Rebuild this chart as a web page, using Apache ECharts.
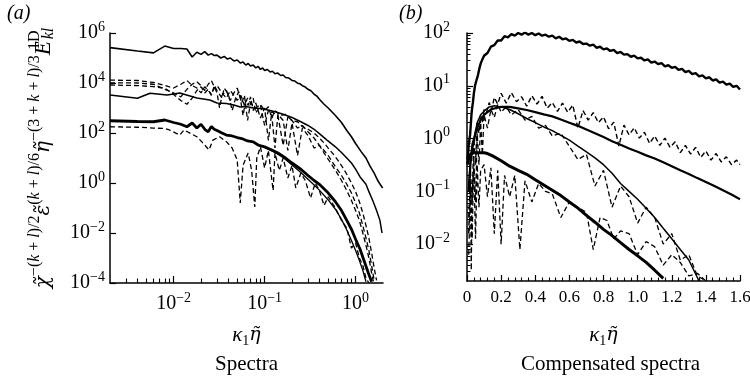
<!DOCTYPE html>
<html><head><meta charset="utf-8">
<script src="https://cdn.jsdelivr.net/npm/echarts@6/dist/echarts.min.js"></script>
<style>html,body{margin:0;padding:0;background:#fff}#c{width:750px;height:380px}</style>
</head><body><div id="c"></div>
<script>
// ---------- Panel (a): spectra, [kappa1*eta, E] ----------
const specA = [[0.002,2.6e5],[0.004,1.9e5],[0.006,1.6e5],[0.008,3.0e5],[0.010,2.4e5],[0.012,2.4e5],[0.014,2.3e5],[0.016,1.1e5],[0.018,1.7e5],[0.020,1.4e5],[0.022,1.8e5],[0.024,1.3e5],[0.026,1.5e5],[0.028,1.26e5],[0.030,1.3e5],[0.033,1.0e5],[0.036,1.15e5],[0.039,9.1e4],[0.042,1.0e5],[0.046,7.6e4],[0.050,8.3e4],[0.054,6.3e4],[0.058,6.9e4],[0.062,5.2e4],[0.066,6.0e4],[0.070,4.8e4],[0.075,5.2e4],[0.080,4.0e4],[0.085,4.6e4],[0.090,3.5e4],[0.095,4.0e4],[0.100,3.16e4],[0.107,3.5e4],[0.115,2.75e4],[0.122,2.95e4],[0.130,2.34e4],[0.140,2.5e4],[0.150,2.0e4],[0.160,2.1e4],[0.170,1.66e4],[0.185,1.58e4],[0.200,1.26e4],[0.215,1.2e4],[0.230,9.8e3],[0.245,9.3e3],[0.260,7.8e3],[0.280,6.9e3],[0.300,5.6e3],[0.325,4.8e3],[0.350,3.55e3],[0.375,3.0e3],[0.400,2.24e3],[0.450,1.41e3],[0.500,1.0e3],[0.600,500],[0.700,263],[0.800,126],[0.900,71],[1.00,38],[1.15,18],[1.30,10],[1.45,4.5],[1.60,2.5],[1.75,1.26],[1.90,0.79],[1.98,0.63]];
const specB1 = [[0.002,1.3e4],[0.004,1.26e4],[0.006,1.05e4],[0.008,7.9e3],[0.010,6.3e3],[0.012,8.9e3],[0.014,1.26e4],[0.016,7.9e3],[0.018,6.3e3],[0.020,4.0e3],[0.022,7.1e3],[0.024,5.0e3],[0.026,3.5e3],[0.028,6.3e3],[0.030,7.9e3],[0.034,4.0e3],[0.038,2.5e3],[0.042,5.0e3],[0.046,3.2e3],[0.050,2.0e3],[0.055,3.2e3],[0.060,1.26e3],[0.065,2.5e3],[0.070,1.58e3],[0.080,1.0e3],[0.090,1.4e3],[0.100,794],[0.110,1.12e3],[0.120,398],[0.130,794],[0.150,501],[0.170,562],[0.200,316],[0.230,282],[0.260,178],[0.300,141],[0.350,100],[0.400,63],[0.450,40],[0.500,25],[0.600,11.2],[0.700,5.0],[0.800,2.24],[0.900,1.0],[1.00,0.45],[1.10,0.178],[1.20,0.063],[1.30,0.02],[1.40,0.0063],[1.50,0.0016],[1.60,4e-4],[1.70,1.26e-4]];
const specB2 = [[0.002,1.02e4],[0.004,1.0e4],[0.006,8.9e3],[0.008,5.6e3],[0.010,4.0e3],[0.012,2.8e3],[0.014,5.6e3],[0.016,8.9e3],[0.018,1.12e4],[0.020,7.9e3],[0.022,5.0e3],[0.024,8.9e3],[0.026,1.26e4],[0.028,7.1e3],[0.030,4.0e3],[0.032,1.0e3],[0.034,3.2e3],[0.038,5.0e3],[0.042,2.0e3],[0.046,4.0e3],[0.050,6.3e3],[0.054,2.5e3],[0.058,500],[0.062,2.0e3],[0.066,1.26e3],[0.070,2.8e3],[0.075,794],[0.080,1.58e3],[0.090,398],[0.100,1.0e3],[0.110,50],[0.120,708],[0.140,501],[0.160,31.6],[0.180,447],[0.200,316],[0.230,158],[0.260,200],[0.300,112],[0.350,63],[0.400,32],[0.450,20],[0.500,12.6],[0.600,4.5],[0.700,2.0],[0.800,0.89],[0.900,0.4],[1.00,0.158],[1.10,0.063],[1.20,0.02],[1.30,0.0063],[1.40,0.002],[1.50,5e-4],[1.60,1.26e-4]];
const specB3 = [[0.002,8.3e3],[0.004,7.9e3],[0.006,7.1e3],[0.008,6.3e3],[0.010,3.5e3],[0.012,2.0e3],[0.014,1.41e3],[0.016,2.5e3],[0.018,5.0e3],[0.020,7.1e3],[0.022,4.0e3],[0.024,5.6e3],[0.026,3.2e3],[0.028,7.9e3],[0.030,5.0e3],[0.034,2.5e3],[0.036,6.3e3],[0.040,3.5e3],[0.044,794],[0.048,2.5e3],[0.052,4.5e3],[0.056,1.58e3],[0.060,3.2e3],[0.065,316],[0.070,1.58e3],[0.075,2.5e3],[0.080,631],[0.090,1.26e3],[0.100,200],[0.110,794],[0.120,501],[0.130,25],[0.140,562],[0.160,316],[0.180,20],[0.200,251],[0.230,12.6],[0.260,158],[0.300,79],[0.350,25],[0.400,32],[0.450,15.8],[0.500,8.9],[0.600,3.2],[0.700,1.26],[0.800,0.5],[0.900,0.2],[1.00,0.079],[1.10,0.032],[1.20,0.01],[1.30,0.0032],[1.40,0.001],[1.50,2.5e-4],[1.58,1e-4]];
const specC = [[0.002,3.3e3],[0.004,2.45e3],[0.0055,3.9e3],[0.0085,3.3e3],[0.0117,4.0e3],[0.018,2.5e3],[0.025,2.1e3],[0.030,1.58e3],[0.038,1.5e3],[0.046,1.32e3],[0.054,1.1e3],[0.062,1.15e3],[0.075,1.0e3],[0.090,955],[0.100,891],[0.115,794],[0.130,708],[0.160,562],[0.200,417],[0.250,282],[0.300,200],[0.350,141],[0.400,95],[0.485,52],[0.600,28],[0.700,16.6],[0.800,10],[0.900,6.3],[1.00,3.6],[1.12,1.74],[1.30,0.89],[1.40,0.45],[1.55,0.19],[1.70,0.079],[1.85,0.032],[1.95,0.01]];
const specD = [[0.002,309],[0.004,288],[0.006,282],[0.008,331],[0.010,263],[0.012,224],[0.014,178],[0.016,251],[0.018,158],[0.020,224],[0.022,141],[0.024,112],[0.026,182],[0.028,141],[0.030,126],[0.034,100],[0.038,83],[0.044,76],[0.050,66],[0.056,60],[0.065,48],[0.075,44],[0.085,33],[0.100,28],[0.120,21],[0.140,15.8],[0.170,10],[0.200,6.3],[0.250,3.55],[0.300,2.0],[0.350,1.26],[0.400,0.89],[0.485,0.45],[0.600,0.178],[0.700,0.079],[0.800,0.032],[0.900,0.0141],[1.00,0.0056],[1.12,0.00224],[1.25,7.1e-4],[1.38,2.5e-4],[1.50,1.12e-4]];
const specD2 = [[0.100,26],[0.130,16.6],[0.160,10.5],[0.200,5.2],[0.250,2.63],[0.300,1.41],[0.350,0.83],[0.400,0.52],[0.500,0.21],[0.600,0.089],[0.700,0.035],[0.800,0.0132],[0.900,0.005],[1.00,0.002],[1.10,7.9e-4],[1.20,3.2e-4],[1.30,1.12e-4]];
const specE = [[0.002,178],[0.004,170],[0.006,158],[0.008,151],[0.009,132],[0.0117,83],[0.013,132],[0.016,89],[0.018,71],[0.021,40],[0.0245,21],[0.027,52],[0.032,71],[0.038,45],[0.044,25],[0.050,8.3],[0.054,0.158],[0.058,5.2],[0.066,15.8],[0.072,3.2],[0.078,0.11],[0.082,10],[0.090,28],[0.100,4.0],[0.110,20],[0.124,0.5],[0.130,15.8],[0.145,3.2],[0.160,10],[0.180,1.58],[0.200,5.0],[0.220,0.63],[0.250,2.5],[0.280,1.26],[0.320,0.25],[0.360,1.0],[0.400,0.5],[0.450,0.126],[0.500,0.28],[0.600,0.1],[0.700,0.032],[0.800,0.0158],[0.900,0.0025],[1.00,0.004],[1.10,0.001],[1.20,5e-4],[1.30,1.58e-4],[1.40,1e-4]];

// ---------- Panel (b): compensated spectra ----------
const compT = [[0.002,0.4],[0.006,0.5],[0.010,0.76],[0.014,0.95],[0.018,1.17],[0.022,1.78],[0.026,2.8],[0.030,3.8],[0.035,4.9],[0.040,7.1],[0.047,10],[0.055,12.6],[0.064,15.8],[0.072,20.9],[0.080,26.3],[0.090,31.6],[0.10,37],[0.12,41.7],[0.14,55],[0.16,59],[0.18,72],[0.20,72],[0.22,87],[0.24,83],[0.26,95],[0.28,89],[0.30,100],[0.32,93],[0.34,102],[0.36,93],[0.38,100],[0.40,91],[0.42,98],[0.44,89],[0.46,93],[0.48,85],[0.50,89],[0.52,79],[0.54,85],[0.56,76],[0.58,79],[0.60,71],[0.62,74],[0.64,66],[0.66,69],[0.68,62],[0.70,63],[0.72,57.5],[0.74,60],[0.76,52.5],[0.78,55],[0.80,49],[0.82,51],[0.84,45.7],[0.86,47.9],[0.88,41.7],[0.90,43.7],[0.92,38.9],[0.94,39.8],[0.96,35.5],[0.98,37.2],[1.00,33.1],[1.02,33.9],[1.04,30.2],[1.06,31.6],[1.08,27.5],[1.10,28.8],[1.12,25.7],[1.14,26.9],[1.16,23.4],[1.18,24.5],[1.20,21.9],[1.22,22.9],[1.24,20],[1.26,20.9],[1.28,18.2],[1.30,19.1],[1.32,16.6],[1.34,17.4],[1.36,15.1],[1.38,15.8],[1.40,13.8],[1.42,14.5],[1.44,12.6],[1.46,13.2],[1.48,11.5],[1.50,12],[1.52,10.5],[1.54,11],[1.56,9.5],[1.58,10],[1.60,8.5]];
const compM1 = [[0.010,0.0158],[0.020,0.25],[0.030,0.063],[0.040,1.0],[0.050,0.32],[0.060,2.0],[0.070,1.26],[0.080,2.8],[0.090,2.0],[0.100,3.55],[0.115,3.16],[0.130,4.8],[0.145,3.55],[0.160,6.0],[0.180,4.5],[0.20,7.2],[0.23,4.7],[0.26,7.4],[0.29,5.0],[0.32,6.2],[0.35,4.1],[0.38,6.5],[0.41,4.5],[0.44,6.3],[0.47,3.76],[0.50,4.8],[0.53,3.27],[0.56,4.7],[0.59,3.16],[0.62,4.3],[0.65,1.58],[0.68,3.4],[0.71,2.24],[0.74,3.1],[0.77,2.0],[0.80,2.57],[0.83,1.53],[0.86,2.04],[0.89,0.72],[0.92,1.8],[0.95,1.17],[0.98,1.6],[1.01,1.02],[1.04,1.32],[1.07,0.81],[1.10,1.12],[1.13,0.74],[1.16,1.02],[1.19,0.68],[1.22,0.87],[1.25,0.54],[1.28,0.74],[1.31,0.51],[1.34,0.68],[1.37,0.44],[1.40,0.58],[1.43,0.39],[1.46,0.52],[1.49,0.36],[1.52,0.45],[1.55,0.32],[1.58,0.39],[1.60,0.32]];
const compM2 = [[0.010,0.1],[0.020,0.32],[0.030,0.63],[0.040,0.89],[0.050,1.26],[0.060,1.58],[0.080,2.24],[0.100,2.82],[0.120,3.16],[0.140,3.55],[0.170,3.8],[0.200,3.98],[0.250,3.98],[0.300,3.72],[0.350,3.47],[0.400,3.16],[0.450,2.88],[0.500,2.63],[0.550,2.29],[0.600,2.0],[0.650,1.74],[0.700,1.48],[0.750,1.26],[0.800,1.07],[0.850,0.89],[0.900,0.76],[0.950,0.65],[1.00,0.56],[1.05,0.48],[1.10,0.42],[1.15,0.355],[1.20,0.30],[1.25,0.25],[1.30,0.214],[1.35,0.178],[1.40,0.151],[1.45,0.126],[1.50,0.105],[1.55,0.087],[1.60,0.071]];
const compM3 = [[0.010,0.126],[0.020,0.4],[0.030,0.79],[0.040,1.0],[0.050,1.41],[0.060,2.0],[0.080,2.82],[0.100,3.3],[0.130,3.98],[0.160,4.17],[0.200,3.98],[0.250,3.55],[0.300,2.95],[0.350,2.4],[0.400,2.0],[0.450,1.66],[0.500,1.41],[0.550,1.15],[0.600,0.93],[0.650,0.72],[0.700,0.56],[0.750,0.43],[0.800,0.32],[0.850,0.22],[0.900,0.141],[0.950,0.1],[1.00,0.071],[1.05,0.048],[1.10,0.032],[1.15,0.02],[1.20,0.0126],[1.25,0.0079],[1.30,0.005],[1.36,0.002]];
const compM4 = [[0.010,0.0063],[0.020,0.1],[0.030,0.0126],[0.040,0.4],[0.050,0.063],[0.060,1.26],[0.070,0.32],[0.080,2.0],[0.090,0.5],[0.100,2.82],[0.120,1.58],[0.140,3.55],[0.160,2.51],[0.180,4.5],[0.200,3.16],[0.230,4.0],[0.260,2.82],[0.300,3.55],[0.340,2.24],[0.380,2.63],[0.420,1.58],[0.460,1.78],[0.500,1.12],[0.550,1.26],[0.600,0.71],[0.650,0.4],[0.700,0.5],[0.750,0.126],[0.800,0.25],[0.850,0.05],[0.900,0.126],[0.950,0.079],[1.00,0.025],[1.05,0.05],[1.10,0.032],[1.15,0.01],[1.20,0.0158],[1.25,0.005],[1.30,0.0063],[1.35,0.0025],[1.40,0.002]];
const compL1 = [[0.004,0.32],[0.010,0.45],[0.020,0.5],[0.030,0.52],[0.040,0.54],[0.050,0.55],[0.060,0.54],[0.070,0.55],[0.080,0.54],[0.090,0.55],[0.100,0.54],[0.120,0.52],[0.150,0.47],[0.200,0.38],[0.250,0.3],[0.300,0.25],[0.350,0.21],[0.400,0.166],[0.450,0.132],[0.500,0.105],[0.550,0.083],[0.600,0.063],[0.650,0.048],[0.700,0.035],[0.750,0.026],[0.800,0.019],[0.850,0.0145],[0.900,0.0107],[0.950,0.0079],[1.00,0.006],[1.05,0.0045],[1.10,0.0032],[1.15,0.00224]];
const compL2 = [[0.010,0.032],[0.020,0.158],[0.025,0.0032],[0.030,0.1],[0.040,0.28],[0.050,0.0126],[0.060,0.32],[0.070,0.05],[0.080,0.25],[0.100,0.32],[0.120,0.079],[0.140,0.28],[0.160,0.0158],[0.180,0.25],[0.200,0.01],[0.220,0.2],[0.250,0.079],[0.280,0.2],[0.310,0.0079],[0.340,0.158],[0.380,0.063],[0.420,0.141],[0.460,0.1],[0.500,0.089],[0.550,0.032],[0.600,0.063],[0.650,0.05],[0.700,0.04],[0.740,0.0079],[0.780,0.032],[0.820,0.028],[0.860,0.0126],[0.900,0.0178],[0.950,0.0158],[1.00,0.0063],[1.05,0.0112],[1.10,0.0089],[1.15,0.004],[1.20,0.0063],[1.25,0.0045],[1.30,0.0025],[1.35,0.0028],[1.40,0.002]];

// ---------- tick values ----------
const leftXMajor = [0.01, 0.1, 1];
const leftXMinor = [0.003,0.004,0.005,0.006,0.007,0.008,0.009,0.02,0.03,0.04,0.05,0.06,0.07,0.08,0.09,0.2,0.3,0.4,0.5,0.6,0.7,0.8,0.9];
const leftYMajor = [1e-4, 1e-2, 1, 1e2, 1e4, 1e6];
const rightYMajor = [0.01, 0.1, 1, 10, 100];
const rightYMinor = [0.003,0.004,0.005,0.006,0.007,0.008,0.009,0.02,0.03,0.04,0.05,0.06,0.07,0.08,0.09,0.2,0.3,0.4,0.5,0.6,0.7,0.8,0.9,2,3,4,5,6,7,8,9,20,30,40,50,60,70,80,90];

const SERIF = "'Liberation Serif','DejaVu Serif','Times New Roman',serif";
const DSERIF = "'DejaVu Serif',serif";
const BLACK = '#000';

function pow10Label(v) {
  const e = Math.round(Math.log10(v));
  const s = e < 0 ? '\u2212' + (-e) : '' + e;
  return '{b|10}{s|' + s + '}';
}
const tickRich = {
  b: {fontFamily: SERIF, fontSize: 20, color: BLACK, verticalAlign: 'middle'},
  s: {fontFamily: SERIF, fontSize: 14, color: BLACK, padding: [0, 0, 12, 0], verticalAlign: 'middle'}
};
const titleRich = {
  m: {fontFamily: SERIF, fontStyle: 'italic', fontSize: 23, color: BLACK, verticalAlign: 'middle'},
  g: {fontFamily: DSERIF, fontStyle: 'italic', fontSize: 20, color: BLACK, verticalAlign: 'middle'},
  u: {fontFamily: SERIF, fontSize: 16, color: BLACK, padding: [0, 0, 17, 0], verticalAlign: 'middle'},
  i: {fontFamily: SERIF, fontStyle: 'italic', fontSize: 16, color: BLACK, padding: [0, 0, 17, 0], verticalAlign: 'middle'},
  d: {fontFamily: SERIF, fontSize: 16, color: BLACK, padding: [0, 0, 17, 0], verticalAlign: 'middle', width: 2},
  q: {fontFamily: SERIF, fontStyle: 'italic', fontSize: 16, color: BLACK, padding: [11, 0, 0, 0], verticalAlign: 'middle'}
};
const yTitle = '{g|\u03C7\u0303}{u|\u2212(}{i|k}{u| + }{i|l}{u|)/2}{g|\u03B5\u0303}{u|(}{i|k}{u| + }{i|l}{u|)/6}{g|\u03B7\u0303}{u|\u2212(3 + }{i|k}{u| + }{i|l}{u|)/3}{m|E}{d|1D}{q|kl}';
const xRich = {
  k: {fontFamily: SERIF, fontStyle: 'italic', fontSize: 21, color: BLACK, lineHeight: 29, verticalAlign: 'middle'},
  g: {fontFamily: DSERIF, fontStyle: 'italic', fontSize: 19, color: BLACK, lineHeight: 29, verticalAlign: 'middle'},
  ks: {fontFamily: SERIF, fontSize: 14, color: BLACK, lineHeight: 14, padding: [12, 0, 0, 0], verticalAlign: 'middle'},
  t: {fontFamily: SERIF, fontSize: 21, color: BLACK, lineHeight: 29, verticalAlign: 'middle'},
  t2: {fontFamily: SERIF, fontSize: 21, color: BLACK, lineHeight: 29, padding: [0, 0, 0, 14], verticalAlign: 'middle'}
};
const kLabel = '{k|\u03BA}{ks|1}{g|\u03B7\u0303}';

const axisLine = {show: true, onZero: false, lineStyle: {color: BLACK, width: 1.5}};
const noSplit = {show: false};

function line(data, side, width, dashed) {
  return {
    type: 'line', data: data, symbol: 'none', silent: true, animation: false,
    xAxisIndex: side === 0 ? 0 : 2, yAxisIndex: side === 0 ? 0 : 1,
    lineStyle: {color: BLACK, width: width, type: dashed ? [5, 3] : 'solid'}
  };
}

const option = {
  backgroundColor: '#fff',
  animation: false,
  textStyle: {fontFamily: SERIF, color: BLACK},
  grid: [
    {left: 110, top: 33, width: 273, height: 250, outerBoundsMode: 'none', containLabel: false},
    {left: 467, top: 33, width: 273, height: 248, outerBoundsMode: 'none', containLabel: false}
  ],
  xAxis: [
    {type: 'log', gridIndex: 0, min: 0.002, max: 2, position: 'bottom', axisLine: axisLine,
     axisTick: {show: true, inside: true, length: 7, customValues: leftXMajor, lineStyle: {color: BLACK, width: 1.2}},
     axisLabel: {customValues: leftXMajor, formatter: pow10Label, rich: tickRich, margin: 8},
     splitLine: noSplit,
     name: kLabel + '\n{t|Spectra}', nameLocation: 'middle', nameGap: 38, nameTextStyle: {rich: xRich}},
    {type: 'log', gridIndex: 0, min: 0.002, max: 2, position: 'bottom', axisLine: {show: false},
     axisTick: {show: true, inside: true, length: 4.5, customValues: leftXMinor, lineStyle: {color: BLACK, width: 1.1}},
     axisLabel: {show: false}, splitLine: noSplit},
    {type: 'value', gridIndex: 1, min: 0, max: 1.6, interval: 0.2, position: 'bottom', axisLine: axisLine,
     axisTick: {show: true, inside: true, length: 6, lineStyle: {color: BLACK, width: 1.2}},
     minorTick: {show: true, splitNumber: 5, length: 3.5, lineStyle: {color: BLACK, width: 1.1}},
     axisLabel: {formatter: v => (v === 0 ? '0' : v.toFixed(1)), fontFamily: SERIF, fontSize: 17, color: BLACK, margin: 8},
     splitLine: noSplit,
     name: kLabel + '\n{t2|Compensated spectra}', nameLocation: 'middle', nameGap: 40, nameTextStyle: {rich: xRich}}
  ],
  yAxis: [
    {type: 'log', gridIndex: 0, min: 1e-4, max: 1e6, position: 'left', axisLine: axisLine,
     axisTick: {show: true, inside: true, length: 6, customValues: leftYMajor, lineStyle: {color: BLACK, width: 1.2}},
     axisLabel: {customValues: leftYMajor, formatter: pow10Label, rich: tickRich, margin: 5},
     splitLine: noSplit,
     name: yTitle, nameLocation: 'middle', nameRotate: 90, nameGap: 50, nameTextStyle: {rich: titleRich}},
    {type: 'log', gridIndex: 1, min: 0.002, max: 100, position: 'left', axisLine: axisLine,
     axisTick: {show: true, inside: true, length: 6, customValues: rightYMajor, lineStyle: {color: BLACK, width: 1.2}},
     axisLabel: {customValues: rightYMajor, formatter: pow10Label, rich: tickRich, margin: 17},
     splitLine: noSplit},
    {type: 'log', gridIndex: 1, min: 0.002, max: 100, position: 'left', axisLine: {show: false},
     axisTick: {show: true, inside: true, length: 3.5, customValues: rightYMinor, lineStyle: {color: BLACK, width: 1}},
     axisLabel: {show: false}, splitLine: noSplit}
  ],
  graphic: [
    {type: 'text', left: 7, top: 4, style: {text: '(a)', font: 'italic 20px ' + SERIF, fill: BLACK}},
    {type: 'text', left: 399, top: 4, style: {text: '(b)', font: 'italic 20px ' + SERIF, fill: BLACK}}
  ],
  series: [
    line(specA, 0, 1.6, false),
    line(specB1, 0, 1.3, true),
    line(specB2, 0, 1.3, true),
    line(specB3, 0, 1.3, true),
    line(specC, 0, 1.5, false),
    line(specD, 0, 2.8, false),
    line(specD2, 0, 1.3, false),
    line(specE, 0, 1.3, true),
    line(compT, 1, 2.4, false),
    line(compM1, 1, 1.4, true),
    line(compM2, 1, 2.2, false),
    line(compM3, 1, 1.5, false),
    line(compM4, 1, 1.3, true),
    line(compL1, 1, 3, false),
    line(compL2, 1, 1.3, true)
  ]
};
const chart = echarts.init(document.getElementById('c'), null, {renderer: 'canvas'});
chart.setOption(option);
</script></body></html>
